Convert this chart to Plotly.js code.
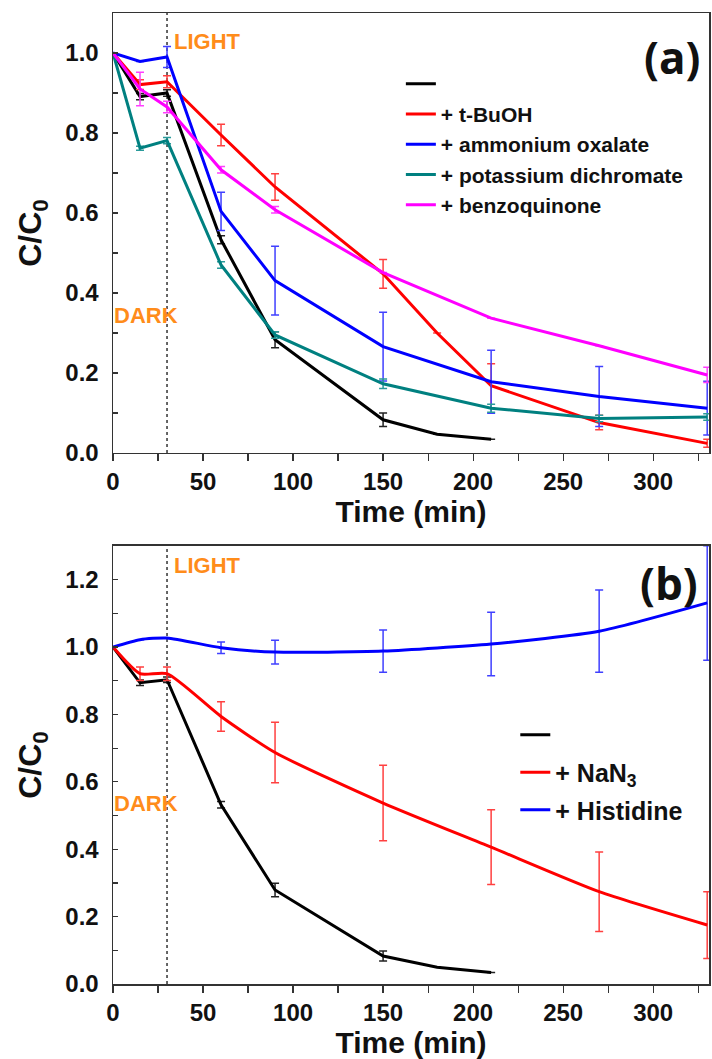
<!DOCTYPE html>
<html><head><meta charset="utf-8">
<script src="https://cdn.plot.ly/plotly-3.0.1.min.js"></script>
<style>html,body{margin:0;padding:0;background:#fff}#chart{width:712px;height:1059px}</style>
</head><body><div id="chart"></div>
<script>
// ---------- data ----------
const LIGHT_ON = 30;

// Panel (a)
const tBlack = [0, 15, 30, 60, 90, 150, 180, 210];
const cBlack = [1.0, 0.891, 0.900, 0.533, 0.283, 0.083, 0.047, 0.034];
const eBlack = [null, 0.008, 0.008, 0.01, 0.02, 0.017, null, null];

const tBuOH = [0, 15, 30, 60, 90, 150, 180, 210, 270, 330];
const cBuOH = [1.0, 0.921, 0.928, 0.795, 0.665, 0.448, 0.30, 0.168, 0.076, 0.024];
const eBuOH = [null, 0.012, 0.015, 0.027, 0.033, 0.036, null, 0.055, 0.018, 0.01];

const tOx = [0, 15, 30, 60, 90, 150, 210, 270, 330];
const cOx = [1.0, 0.979, 0.99, 0.604, 0.431, 0.266, 0.178, 0.141, 0.112];
const eOx = [null, null, 0.026, 0.048, 0.086, 0.086, 0.079, 0.075, 0.067];

const tDich = [0, 15, 30, 60, 90, 150, 210, 270, 330];
const cDich = [1.0, 0.762, 0.781, 0.470, 0.295, 0.173, 0.112, 0.086, 0.09];
const eDich = [null, 0.005, 0.008, 0.008, 0.008, 0.012, 0.01, 0.008, 0.008];

const tBQ = [0, 15, 30, 60, 90, 150, 210, 270, 330];
const cBQ = [1.0, 0.91, 0.865, 0.708, 0.608, 0.451, 0.337, 0.268, 0.195];
const eBQ = [null, 0.042, 0.0145, 0.008, 0.008, null, null, null, 0.019];

// Panel (b)
const tBlackB = [0, 15, 30, 60, 90, 150, 180, 210];
const cBlackB = [1.0, 0.894, 0.903, 0.532, 0.279, 0.083, 0.05, 0.034];
const eBlackB = [null, 0.008, 0.008, 0.01, 0.02, 0.015, null, null];

const tNaN3 = [0, 15, 30, 60, 90, 150, 210, 270, 330];
const cNaN3 = [1.0, 0.921, 0.921, 0.794, 0.687, 0.537, 0.406, 0.274, 0.175];
const eNaN3 = [null, 0.02, 0.02, 0.044, 0.09, 0.112, 0.111, 0.118, 0.099];

const tHis = [0, 15, 30, 60, 90, 150, 210, 270, 330];
const cHis = [1.0, 1.022, 1.027, 0.998, 0.985, 0.988, 1.009, 1.047, 1.131];
const eHis = [null, null, null, 0.017, 0.035, 0.063, 0.094, 0.122, 0.17];

const namesA = [' ', '+ t-BuOH', '+ ammonium oxalate', '+ potassium dichromate', '+ benzoquinone'];
const namesB = [' ', '+ NaN<sub>3</sub>', '+ Histidine'];

const xTickVals = [0, 50, 100, 150, 200, 250, 300];
const yTicksA = [0, 0.2, 0.4, 0.6, 0.8, 1.0];
const yTicksB = [0, 0.2, 0.4, 0.6, 0.8, 1.0, 1.2];

// ---------- styling ----------
const FONT = 'Liberation Sans, Arial, sans-serif';
const ORANGE = '#FF8C1A';

function trace(x, y, err, color, errColor, name, xa, ya, leg, grp, shape) {
  return {
    type: 'scatter', mode: 'lines', x: x, y: y, name: name,
    xaxis: xa, yaxis: ya, legend: leg, legendgroup: grp,
    line: {color: color, width: 3, shape: shape || 'linear', smoothing: 0.6},
    error_y: {type: 'data', array: err, visible: true, color: errColor, thickness: 1.5, width: 4},
    hoverinfo: 'x+y'
  };
}

const data = [
  trace(tBlack, cBlack, eBlack, '#000000', '#222222', namesA[0], 'x', 'y', 'legend', 'a0'),
  trace(tBuOH, cBuOH, eBuOH, '#FF0000', '#FF4040', namesA[1], 'x', 'y', 'legend', 'a1'),
  trace(tOx, cOx, eOx, '#0000FF', '#4040FF', namesA[2], 'x', 'y', 'legend', 'a2'),
  trace(tDich, cDich, eDich, '#008080', '#2A9A9A', namesA[3], 'x', 'y', 'legend', 'a3'),
  trace(tBQ, cBQ, eBQ, '#FF00FF', '#FF40FF', namesA[4], 'x', 'y', 'legend', 'a4'),
  trace(tBlackB, cBlackB, eBlackB, '#000000', '#222222', namesB[0], 'x2', 'y2', 'legend2', 'b0'),
  trace(tNaN3, cNaN3, eNaN3, '#FF0000', '#FF4040', namesB[1], 'x2', 'y2', 'legend2', 'b1', 'spline'),
  trace(tHis, cHis, eHis, '#0000FF', '#4040FF', namesB[2], 'x2', 'y2', 'legend2', 'b2', 'spline')
];

function xAxis(anchor) {
  return {
    domain: [0, 1], anchor: anchor, range: [0, 331],
    tickvals: xTickVals, ticks: 'outside', ticklen: 7, tickwidth: 1.2, tickcolor: '#333',
    minor: {dtick: 25, tick0: 0, ticks: 'outside', ticklen: 7, tickwidth: 1.2, tickcolor: '#333'},
    showline: true, linecolor: '#333', linewidth: 1.5, mirror: true,
    showgrid: false, zeroline: false,
    tickfont: {family: FONT, size: 24, color: '#111', weight: 'bold'},
    title: {text: 'Time (min)', font: {family: FONT, size: 30, color: '#111', weight: 'bold'}, standoff: 4}
  };
}
function yAxis(anchor, domain, range, tv) {
  return {
    domain: domain, anchor: anchor, range: range,
    tickvals: tv, tickformat: '.1f', ticks: 'inside', ticklen: 5, tickwidth: 1.2, tickcolor: '#333',
    minor: {dtick: 0.1, tick0: 0, ticks: 'inside', ticklen: 5, tickwidth: 1.2, tickcolor: '#333'},
    showline: true, linecolor: '#333', linewidth: 1.5, mirror: true,
    showgrid: false, zeroline: false, ticklabelstandoff: 8,
    tickfont: {family: FONT, size: 24, color: '#111', weight: 'bold'},
    title: {text: 'C/C<sub>0</sub>', font: {family: FONT, size: 32, color: '#111', weight: 'bold'}, standoff: 14}
  };
}

const layout = {
  width: 712, height: 1059,
  margin: {l: 113, r: 3, t: 13, b: 75},
  paper_bgcolor: '#fff', plot_bgcolor: '#fff',
  font: {family: FONT, color: '#111'},
  xaxis: xAxis('y'),
  yaxis: yAxis('x', [0.5469, 1.0], [0, 1.1], yTicksA),
  xaxis2: xAxis('y2'),
  yaxis2: yAxis('x2', [0, 0.4511], [0, 1.3], yTicksB),
  legend: {x: 0.483, y: 0.948, xanchor: 'left', yanchor: 'top', traceorder: 'grouped', tracegroupgap: 0,
           bgcolor: 'rgba(0,0,0,0)', font: {family: FONT, size: 21, color: '#111', weight: 'bold'}},
  legend2: {x: 0.675, y: 0.28, xanchor: 'left', yanchor: 'top', traceorder: 'grouped', tracegroupgap: 2,
           bgcolor: 'rgba(0,0,0,0)', font: {family: FONT, size: 25, color: '#111', weight: 'bold'}},
  shapes: [
    {type: 'line', xref: 'x', yref: 'y domain', x0: LIGHT_ON, x1: LIGHT_ON, y0: 0, y1: 1, layer: 'below',
     line: {color: '#000', width: 1.2, dash: 'dot'}},
    {type: 'line', xref: 'x2', yref: 'y2 domain', x0: LIGHT_ON, x1: LIGHT_ON, y0: 0, y1: 1, layer: 'below',
     line: {color: '#000', width: 1.2, dash: 'dot'}}
  ],
  annotations: [
    {xref: 'x', yref: 'y', x: LIGHT_ON, y: 1.028, xanchor: 'left', yanchor: 'middle', xshift: 5, showarrow: false,
     text: 'LIGHT', font: {family: FONT, size: 22, color: ORANGE, weight: 'bold'}},
    {xref: 'x', yref: 'y', x: 0, y: 0.343, xanchor: 'left', yanchor: 'middle', xshift: -1, showarrow: false,
     text: 'DARK', font: {family: FONT, size: 22, color: ORANGE, weight: 'bold'}},
    {xref: 'x2', yref: 'y2', x: LIGHT_ON, y: 1.242, xanchor: 'left', yanchor: 'middle', xshift: 5, showarrow: false,
     text: 'LIGHT', font: {family: FONT, size: 22, color: ORANGE, weight: 'bold'}},
    {xref: 'x2', yref: 'y2', x: 0, y: 0.535, xanchor: 'left', yanchor: 'middle', xshift: -1, showarrow: false,
     text: 'DARK', font: {family: FONT, size: 22, color: ORANGE, weight: 'bold'}},
    {xref: 'x domain', yref: 'y domain', x: 0.938, y: 0.9, xanchor: 'center', yanchor: 'middle', showarrow: false,
     text: '(a)', font: {family: 'Open Sans, sans-serif', size: 44, color: '#111', weight: 'bold'}},
    {xref: 'x2 domain', yref: 'y2 domain', x: 0.933, y: 0.9155, xanchor: 'center', yanchor: 'middle', showarrow: false,
     text: '(b)', font: {family: 'Open Sans, sans-serif', size: 44, color: '#111', weight: 'bold'}}
  ]
};

Plotly.newPlot('chart', data, layout, {displayModeBar: false, staticPlot: true});
</script></body></html>
